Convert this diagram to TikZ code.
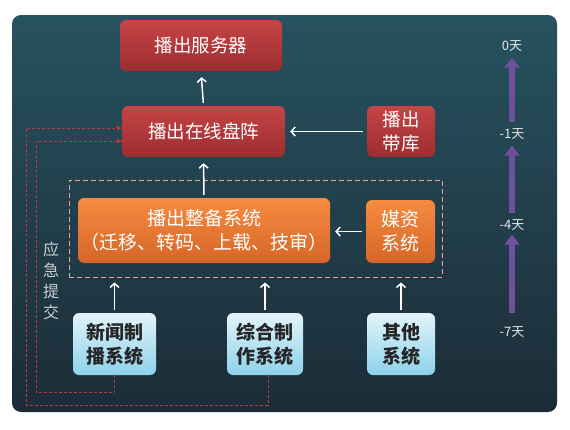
\documentclass[tikz,border=0pt]{standalone}
\usepackage{fontspec}
\setmainfont{Noto Sans CJK SC}
\usetikzlibrary{arrows.meta, positioning}
\definecolor{bgtop}{HTML}{27525F}
\definecolor{bgbot}{HTML}{1B2C37}
\definecolor{redtop}{HTML}{C64446}
\definecolor{redbot}{HTML}{9C2D30}
\definecolor{orgtop}{HTML}{F68B40}
\definecolor{orgbot}{HTML}{D66628}
\definecolor{blutop}{HTML}{E2F4FA}
\definecolor{blubot}{HTML}{8DD2EA}
\definecolor{zoneline}{HTML}{E6A68C}
\definecolor{urgent}{HTML}{B83C3E}
\definecolor{daypurple}{HTML}{6E509C}
\definecolor{sidegray}{HTML}{C9CFD2}

\begin{document}
\begin{tikzpicture}[x=1pt, y=-1pt,
  box/.style={rounded corners=6pt, align=center, inner sep=0pt,
              font=\fontsize{18.5}{24}\selectfont},
  redbox/.style={box, top color=redtop, bottom color=redbot, text=white},
  orgbox/.style={box, top color=orgtop, bottom color=orgbot, text=white,
                 font=\fontsize{19}{24}\selectfont},
  blubox/.style={box, top color=blutop, bottom color=blubot, text=black!85,
                 font=\fontsize{19}{24}\selectfont\bfseries},
  flow/.style={draw=white, line width=1.5pt, -{Straight Barb[length=4pt,width=9pt]}},
  urgentline/.style={draw=urgent, line width=0.9pt, dash pattern=on 3pt off 2pt,
                     -{Triangle[length=5pt,width=5pt]}},
  daylabel/.style={text=white!90!black, font=\fontsize{13}{15}\selectfont, inner sep=1pt},
  dayflow/.style={draw=daypurple, line width=6pt, -{Triangle[length=10pt,width=15pt]}}
]
  % canvas and panel
  \useasboundingbox[fill=white] (0,0) rectangle (570,429);
  \shade[top color=bgtop, bottom color=bgbot, rounded corners=9pt] (12,15) rectangle (557,412);

  % broadcast chain
  \node[redbox, minimum width=162pt, minimum height=51pt] (server) at (201,45.5) {播出服务器};
  \node[redbox, minimum width=163pt, minimum height=51pt] (disk) at (203.5,131.5) {播出在线盘阵};
  \node[redbox, minimum width=68pt, minimum height=51pt] (tape) at (401,131.5) {播出\\带库};

  % preparation zone
  \node[draw=zoneline, line width=1pt, dash pattern=on 5pt off 3pt,
        minimum width=373pt, minimum height=97pt] (zone) at (255.5,228.5) {};
  \node[orgbox, minimum width=252pt, minimum height=65pt] (prep) at (204,230.5)
        {播出整备系统\\（迁移、转码、上载、技审）};
  \node[orgbox, minimum width=69pt, minimum height=63pt] (media) at (400.5,231.5) {媒资\\系统};

  % production systems
  \node[blubox, minimum width=83pt, minimum height=62pt] (news) at (114.5,344) {新闻制\\播系统};
  \node[blubox, minimum width=76pt, minimum height=62pt] (comp) at (265,344) {综合制\\作系统};
  \node[blubox, minimum width=68pt, minimum height=62pt] (other) at (401,344) {其他\\系统};

  % main flow
  \draw[flow, shorten <=3pt, shorten >=6pt] (disk.north) -- (server.south);
  \draw[flow, shorten <=3pt, shorten >=6pt] (prep.north) -- (disk.south);
  \draw[flow, shorten <=4pt, shorten >=5pt] (tape.west) -- (disk.west -| disk.east);
  \draw[flow, shorten <=4pt, shorten >=5pt] (media.west) -- (media.west -| prep.east);
  \foreach \src in {news, comp, other}
    \draw[flow, shorten <=3pt, shorten >=5pt] (\src.north) -- (\src.north |- zone.south);

  % emergency submission
  \coordinate (outerin) at ([yshift=3.5pt]disk.west);
  \coordinate (innerin) at ([yshift=-9.5pt]disk.west);
  \draw[urgentline] ([xshift=3pt]comp.south) -- ++(0,30) -| (26,0 |- outerin) -- (outerin);
  \draw[urgentline] (news.south) -- ++(0,17) -| (36,0 |- innerin) -- (innerin);
  \node[text=sidegray, font=\fontsize{16}{21}\selectfont, align=center] (urgenttag) at (51,281)
        {应\\急\\提\\交};

  % timeline
  \node[daylabel] (d0) at (512,46) {0天};
  \node[daylabel] (d1) at (512,134) {-1天};
  \node[daylabel] (d4) at (512,225) {-4天};
  \node[daylabel] (d7) at (512,332) {-7天};
  \draw[dayflow, shorten <=5pt, shorten >=5pt] (d1.north) -- (d0.south);
  \draw[dayflow, shorten <=5pt, shorten >=5pt] (d4.north) -- (d1.south);
  \draw[dayflow, shorten <=12pt, shorten >=3pt] (d7.north) -- (d4.south);
\end{tikzpicture}
\end{document}
